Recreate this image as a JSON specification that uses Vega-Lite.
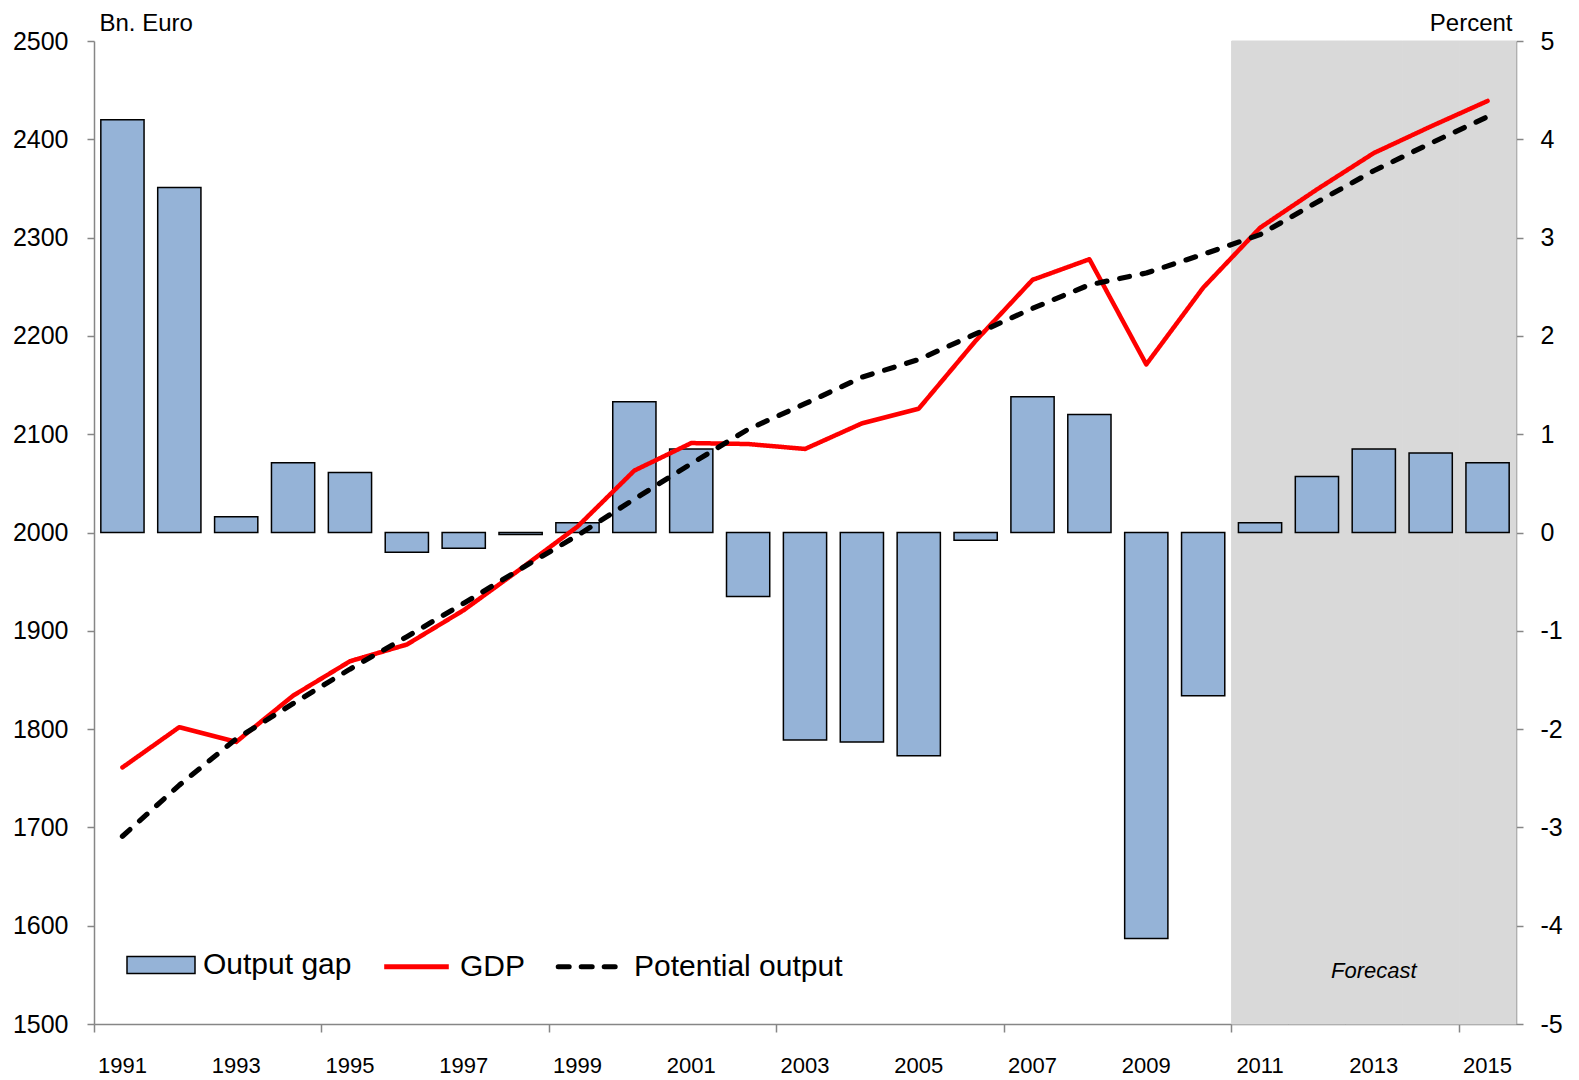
{
  "$schema": "https://vega.github.io/schema/vega-lite/v6.json",
  "width": 1422,
  "height": 983,
  "autosize": {"type": "none"},
  "padding": {"left": 94, "top": 41, "right": 63, "bottom": 56},
  "background": "white",
  "config": {
    "font": "Liberation Sans",
    "view": {"stroke": null},
    "axis": {"labelColor": "#000000", "titleColor": "#000000", "domainColor": "#868686", "tickColor": "#868686", "domainWidth": 1.5, "tickWidth": 1.5, "grid": false, "titleFontWeight": "normal"},
    "legend": {
      "title": null,
      "orient": "none",
      "legendY": 889,
      "direction": "horizontal",
      "padding": 0,
      "symbolSize": 4624,
      "labelFontSize": 30,
      "labelLimit": 500,
      "labelColor": "#000000",
      "labelOffset": 7
    }
  },
  "datasets": {
    "gap": [
      {"year": 1991, "gap": 4.20}, {"year": 1992, "gap": 3.51}, {"year": 1993, "gap": 0.16},
      {"year": 1994, "gap": 0.71}, {"year": 1995, "gap": 0.61}, {"year": 1996, "gap": -0.20},
      {"year": 1997, "gap": -0.16}, {"year": 1998, "gap": -0.02}, {"year": 1999, "gap": 0.10},
      {"year": 2000, "gap": 1.33}, {"year": 2001, "gap": 0.85}, {"year": 2002, "gap": -0.65},
      {"year": 2003, "gap": -2.11}, {"year": 2004, "gap": -2.13}, {"year": 2005, "gap": -2.27},
      {"year": 2006, "gap": -0.08}, {"year": 2007, "gap": 1.38}, {"year": 2008, "gap": 1.20},
      {"year": 2009, "gap": -4.13}, {"year": 2010, "gap": -1.66}, {"year": 2011, "gap": 0.10},
      {"year": 2012, "gap": 0.57}, {"year": 2013, "gap": 0.85}, {"year": 2014, "gap": 0.81},
      {"year": 2015, "gap": 0.71}
    ],
    "lines": [
      {"year": 1991, "series": "GDP", "value": 1761}, {"year": 1992, "series": "GDP", "value": 1802},
      {"year": 1993, "series": "GDP", "value": 1787}, {"year": 1994, "series": "GDP", "value": 1834},
      {"year": 1995, "series": "GDP", "value": 1869}, {"year": 1996, "series": "GDP", "value": 1886},
      {"year": 1997, "series": "GDP", "value": 1921}, {"year": 1998, "series": "GDP", "value": 1963},
      {"year": 1999, "series": "GDP", "value": 2006}, {"year": 2000, "series": "GDP", "value": 2063},
      {"year": 2001, "series": "GDP", "value": 2091}, {"year": 2002, "series": "GDP", "value": 2090},
      {"year": 2003, "series": "GDP", "value": 2085}, {"year": 2004, "series": "GDP", "value": 2111},
      {"year": 2005, "series": "GDP", "value": 2126}, {"year": 2006, "series": "GDP", "value": 2195},
      {"year": 2007, "series": "GDP", "value": 2257}, {"year": 2008, "series": "GDP", "value": 2278},
      {"year": 2009, "series": "GDP", "value": 2171}, {"year": 2010, "series": "GDP", "value": 2249},
      {"year": 2011, "series": "GDP", "value": 2310}, {"year": 2012, "series": "GDP", "value": 2349},
      {"year": 2013, "series": "GDP", "value": 2386}, {"year": 2014, "series": "GDP", "value": 2413},
      {"year": 2015, "series": "GDP", "value": 2439},
      {"year": 1991, "series": "Potential output", "value": 1691}, {"year": 1992, "series": "Potential output", "value": 1743},
      {"year": 1993, "series": "Potential output", "value": 1790}, {"year": 1994, "series": "Potential output", "value": 1826},
      {"year": 1995, "series": "Potential output", "value": 1861}, {"year": 1996, "series": "Potential output", "value": 1894},
      {"year": 1997, "series": "Potential output", "value": 1928}, {"year": 1998, "series": "Potential output", "value": 1963},
      {"year": 1999, "series": "Potential output", "value": 1997}, {"year": 2000, "series": "Potential output", "value": 2034},
      {"year": 2001, "series": "Potential output", "value": 2070}, {"year": 2002, "series": "Potential output", "value": 2105},
      {"year": 2003, "series": "Potential output", "value": 2131}, {"year": 2004, "series": "Potential output", "value": 2158},
      {"year": 2005, "series": "Potential output", "value": 2176}, {"year": 2006, "series": "Potential output", "value": 2202},
      {"year": 2007, "series": "Potential output", "value": 2228}, {"year": 2008, "series": "Potential output", "value": 2252},
      {"year": 2009, "series": "Potential output", "value": 2264}, {"year": 2010, "series": "Potential output", "value": 2283},
      {"year": 2011, "series": "Potential output", "value": 2303}, {"year": 2012, "series": "Potential output", "value": 2336},
      {"year": 2013, "series": "Potential output", "value": 2368}, {"year": 2014, "series": "Potential output", "value": 2396},
      {"year": 2015, "series": "Potential output", "value": 2423}
    ],
    "note": [{"year": 2013, "gap": -4.46, "label": "Forecast"}]
  },
  "encoding": {
    "x": {
      "field": "year", "type": "ordinal",
      "scale": {"paddingInner": 0, "paddingOuter": 0},
      "axis": {
        "title": null,
        "values": [1991, 1993, 1995, 1997, 1999, 2001, 2003, 2005, 2007, 2009, 2011, 2013, 2015],
        "labelAngle": 0,
        "labelFontSize": 22,
        "labelPadding": 23,
        "tickSize": 8,
        "bandPosition": 0,
        "tickOpacity": {"condition": {"test": "datum.value % 4 == 3", "value": 1}, "value": 0}
      }
    }
  },
  "layer": [
    {
      "data": {"name": "gap"},
      "transform": [{"filter": "datum.year >= 2011"}],
      "mark": {"type": "bar", "color": "#d9d9d9", "stroke": "#d9d9d9", "strokeWidth": 1, "width": {"band": 1}}
    },
    {
      "data": {"name": "gap"},
      "mark": {"type": "bar", "stroke": "#000000", "strokeWidth": 1.5, "width": {"band": 0.76}},
      "encoding": {
        "y": {
          "field": "gap", "type": "quantitative",
          "scale": {"domain": [-5, 5], "nice": false, "zero": false},
          "axis": {
            "orient": "right", "values": [-5, -4, -3, -2, -1, 0, 1, 2, 3, 4, 5],
            "labelExpr": "'' + datum.value",
            "labelFontSize": 25, "tickSize": 7, "labelPadding": 17,
            "title": "Percent", "titleAngle": 0, "titleAlign": "right", "titleBaseline": "alphabetic",
            "titleX": -4, "titleY": -11, "titleFontSize": 24
          }
        },
        "fill": {
          "datum": "Output gap", "type": "nominal",
          "scale": {"domain": ["Output gap"], "range": ["#95b3d7"]},
          "legend": {
            "title": null,
            "legendX": 32,
            "symbolType": "M-1,-0.25L1,-0.25L1,0.25L-1,0.25Z",
            "symbolStrokeColor": "#000000",
            "symbolStrokeWidth": 1.5,
            "symbolOpacity": 1
          }
        }
      }
    },
    {
      "data": {"name": "note"},
      "mark": {"type": "rule", "color": "#000000", "strokeWidth": 1.5},
      "encoding": {
        "y": {"datum": 0, "type": "quantitative", "scale": {"domain": [-5, 5], "nice": false, "zero": false}, "axis": null}
      }
    },
    {
      "data": {"name": "lines"},
      "mark": {"type": "line", "strokeCap": "round", "strokeJoin": "round"},
      "encoding": {
        "y": {
          "field": "value", "type": "quantitative",
          "scale": {"domain": [1500, 2500], "nice": false, "zero": false},
          "axis": {
            "orient": "left", "values": [1500, 1600, 1700, 1800, 1900, 2000, 2100, 2200, 2300, 2400, 2500],
            "labelExpr": "'' + datum.value",
            "labelFontSize": 25, "tickSize": 7, "labelPadding": 19,
            "title": "Bn. Euro", "titleAngle": 0, "titleAlign": "left", "titleBaseline": "alphabetic",
            "titleX": 5, "titleY": -11, "titleFontSize": 24
          }
        },
        "stroke": {
          "field": "series", "type": "nominal",
          "scale": {"domain": ["GDP", "Potential output"], "range": ["#ff0000", "#000000"]},
          "legend": {
            "title": null,
            "legendX": 286,
            "columnPadding": 22,
            "symbolType": "M-0.95,0L0.95,0",
            "symbolStrokeWidth": 5,
            "encoding": {
              "symbols": {
                "strokeDash": {"value": {"expr": "datum.value === 'Potential output' ? [11, 12] : [1, 0]"}},
                "strokeCap": {"value": {"expr": "datum.value === 'Potential output' ? 'round' : 'butt'"}},
                "opacity": {"value": 1}
              }
            }
          }
        },
        "strokeDash": {
          "field": "series", "type": "nominal",
          "scale": {"domain": ["GDP", "Potential output"], "range": [[1, 0], [10, 13]]},
          "legend": null
        },
        "strokeWidth": {
          "field": "series", "type": "nominal",
          "scale": {"domain": ["GDP", "Potential output"], "range": [4.5, 5.2]},
          "legend": null
        }
      }
    },
    {
      "data": {"name": "note"},
      "mark": {"type": "text", "fontSize": 22, "fontStyle": "italic", "color": "#000000", "align": "center", "baseline": "middle"},
      "encoding": {
        "y": {"field": "gap", "type": "quantitative", "scale": {"domain": [-5, 5], "nice": false, "zero": false}, "axis": null},
        "text": {"field": "label"}
      }
    }
  ],
  "resolve": {"scale": {"y": "independent", "strokeDash": "independent", "strokeWidth": "independent"}, "axis": {"y": "independent"}}
}
